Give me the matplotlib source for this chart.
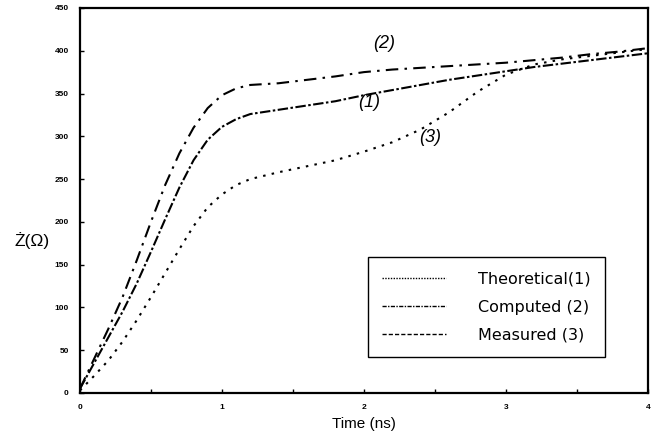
import matplotlib
matplotlib.use("Agg")
import matplotlib.pyplot as plt
from matplotlib.lines import Line2D
from matplotlib.ticker import MultipleLocator

plt.rcParams['font.family'] = ['Liberation Sans', 'DejaVu Sans']

t = [0, 0.1, 0.2, 0.3, 0.4, 0.5, 0.6, 0.7, 0.8, 0.9, 1.0, 1.1, 1.2, 1.4, 1.6,
     1.8, 2.0, 2.2, 2.4, 2.6, 2.8, 3.0, 3.2, 3.4, 3.6, 3.8, 4.0]
theoretical = [5, 35, 65, 95, 128, 165, 203, 240, 272, 296, 311, 320, 326, 331, 336,
               341, 348, 354, 360, 366, 371, 376, 381, 385, 389, 393, 397]
computed = [5, 40, 75, 112, 155, 200, 243, 280, 310, 333, 348, 356, 360, 362, 366,
            370, 375, 378, 380, 382, 384, 386, 389, 392, 396, 399, 403]
measured = [3, 20, 38, 60, 85, 112, 140, 168, 195, 217, 232, 243, 250, 258, 265,
            272, 282, 293, 308, 328, 352, 372, 384, 390, 394, 398, 402]

legend_labels = ["Theoretical(1)", "Computed (2)", "Measured (3)"]
curve_labels = ["(1)", "(2)", "(3)"]
label_pos = [(2.04, 340), (2.14, 409), (2.47, 299)]
x_ticks = [0, 1, 2, 3, 4]
y_ticks = list(range(0, 451, 50))

fig = plt.figure(figsize=(6.61, 4.42), dpi=100)
ax = fig.add_axes([0.121, 0.111, 0.859, 0.871])

ax.plot(t, theoretical, color='black', lw=1.5, linestyle=(0, (5, 1.2, 1.2, 1.2)))
ax.plot(t, computed, color='black', lw=1.5, linestyle=(0, (6, 3, 1.2, 3)))
ax.plot(t, measured, color='black', lw=1.5, linestyle=(0, (1.2, 3)))

for lab, (xx, yy) in zip(curve_labels, label_pos):
    ax.text(xx, yy, lab, fontsize=13, style='italic', ha='center', va='center')

ax.set_xlim(0, 4)
ax.set_ylim(0, 450)
ax.set_xticks(x_ticks)
ax.xaxis.set_minor_locator(MultipleLocator(0.5))
ax.set_yticks(y_ticks)
ax.tick_params(direction='in', length=3, width=1, labelsize=6, pad=8)
ax.tick_params(which='minor', direction='in', length=3, width=1)
for lab in ax.get_xticklabels() + ax.get_yticklabels():
    lab.set_fontweight('bold')
for sp in ax.spines.values():
    sp.set_linewidth(1.6)

ax.set_xlabel("Time (ns)", fontsize=11, labelpad=4)
fig.text(0.048, 0.455, "Ż(Ω)", fontsize=12.5, ha='center', va='center')

handles = [
    Line2D([], [], color='black', lw=1.0, linestyle=(0, (1, 1))),
    Line2D([], [], color='black', lw=1.0, linestyle=(0, (3, 1, 1, 1))),
    Line2D([], [], color='black', lw=1.0, linestyle=(0, (3, 1.5))),
]
leg = ax.legend(handles, legend_labels, loc='lower left', bbox_to_anchor=(0.507, 0.094),
                borderaxespad=0, prop={'family': 'DejaVu Sans', 'size': 11.5},
                handlelength=4.0, handletextpad=2.0,
                labelspacing=0.8, borderpad=0.9, fancybox=False, framealpha=1,
                edgecolor='black')
leg.get_frame().set_linewidth(1.0)

fig.savefig("out.png", dpi=100)
